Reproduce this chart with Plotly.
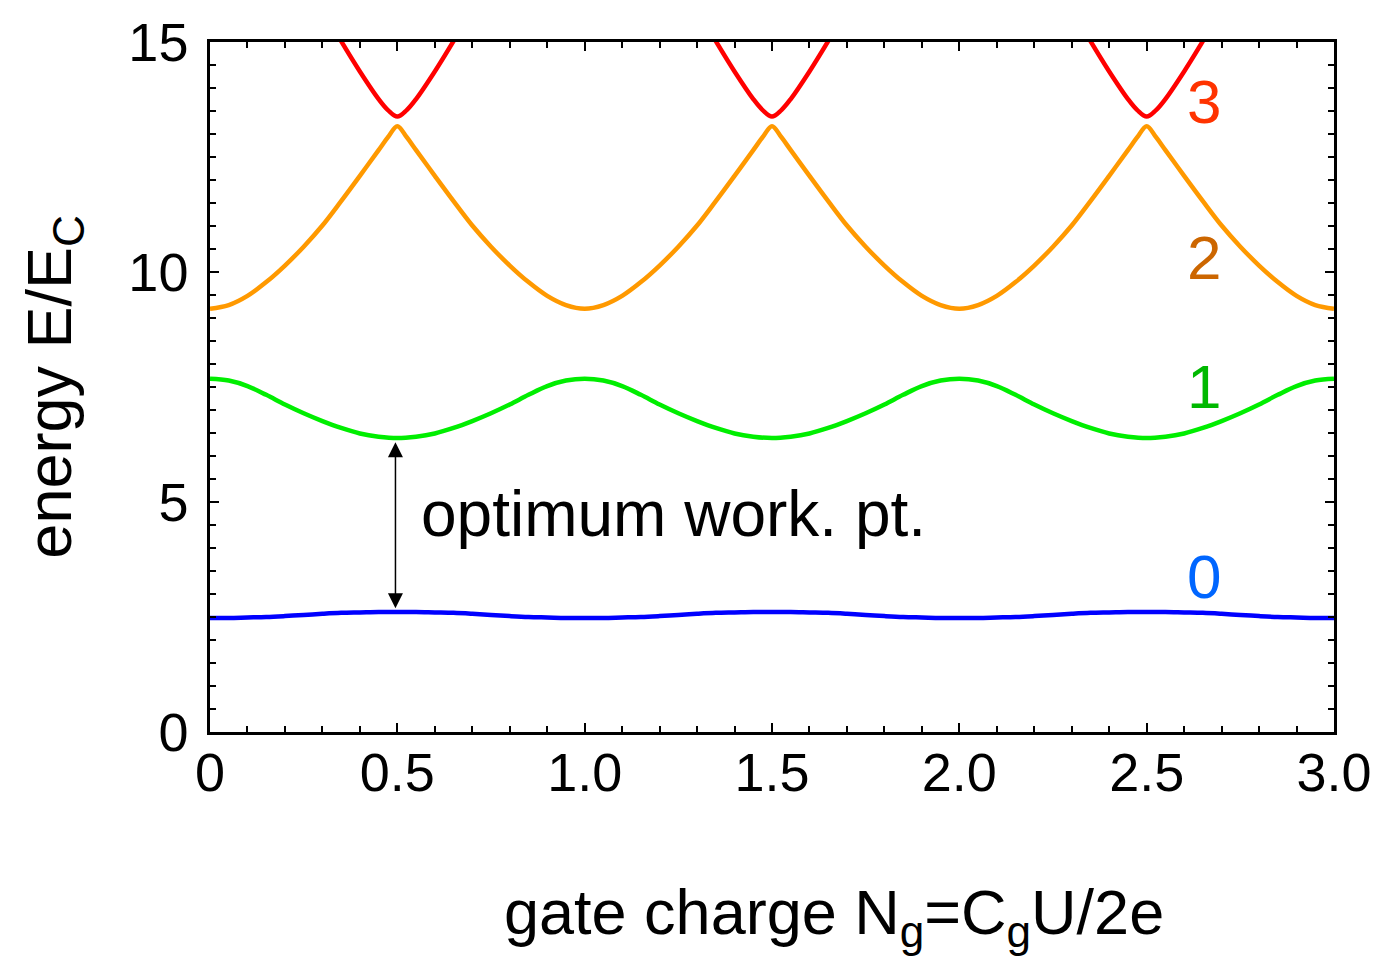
import plotly.graph_objects as go

# ---- data ----
ng = [0.00, 0.05, 0.10, 0.15, 0.20, 0.25, 0.30, 0.35, 0.40, 0.45,
      0.50, 0.55, 0.60, 0.65, 0.70, 0.75, 0.80, 0.85, 0.90, 0.95,
      1.00, 1.05, 1.10, 1.15, 1.20, 1.25, 1.30, 1.35, 1.40, 1.45,
      1.50, 1.55, 1.60, 1.65, 1.70, 1.75, 1.80, 1.85, 1.90, 1.95,
      2.00, 2.05, 2.10, 2.15, 2.20, 2.25, 2.30, 2.35, 2.40, 2.45,
      2.50, 2.55, 2.60, 2.65, 2.70, 2.75, 2.80, 2.85, 2.90, 2.95,
      3.00]

level0 = [2.48, 2.48, 2.49, 2.50, 2.52, 2.545, 2.57, 2.59, 2.60, 2.61,
          2.61, 2.61, 2.60, 2.59, 2.57, 2.545, 2.52, 2.50, 2.49, 2.48,
          2.48, 2.48, 2.49, 2.50, 2.52, 2.545, 2.57, 2.59, 2.60, 2.61,
          2.61, 2.61, 2.60, 2.59, 2.57, 2.545, 2.52, 2.50, 2.49, 2.48,
          2.48, 2.48, 2.49, 2.50, 2.52, 2.545, 2.57, 2.59, 2.60, 2.61,
          2.61, 2.61, 2.60, 2.59, 2.57, 2.545, 2.52, 2.50, 2.49, 2.48,
          2.48]

level1 = [7.68, 7.64, 7.52, 7.33, 7.12, 6.93, 6.76, 6.61, 6.49, 6.42,
          6.39, 6.42, 6.49, 6.61, 6.76, 6.93, 7.12, 7.33, 7.52, 7.64,
          7.68, 7.64, 7.52, 7.33, 7.12, 6.93, 6.76, 6.61, 6.49, 6.42,
          6.39, 6.42, 6.49, 6.61, 6.76, 6.93, 7.12, 7.33, 7.52, 7.64,
          7.68, 7.64, 7.52, 7.33, 7.12, 6.93, 6.76, 6.61, 6.49, 6.42,
          6.39, 6.42, 6.49, 6.61, 6.76, 6.93, 7.12, 7.33, 7.52, 7.64,
          7.68]

ng2 = [0.00, 0.05, 0.10, 0.15, 0.20, 0.25, 0.30, 0.35, 0.40, 0.45, 0.475,
       0.50, 0.525, 0.55, 0.60, 0.65, 0.70, 0.75, 0.80, 0.85, 0.90, 0.95,
       1.00, 1.05, 1.10, 1.15, 1.20, 1.25, 1.30, 1.35, 1.40, 1.45, 1.475,
       1.50, 1.525, 1.55, 1.60, 1.65, 1.70, 1.75, 1.80, 1.85, 1.90, 1.95,
       2.00, 2.05, 2.10, 2.15, 2.20, 2.25, 2.30, 2.35, 2.40, 2.45, 2.475,
       2.50, 2.525, 2.55, 2.60, 2.65, 2.70, 2.75, 2.80, 2.85, 2.90, 2.95,
       3.00]

level2 = [9.20, 9.28, 9.48, 9.78, 10.14, 10.55, 11.01, 11.54, 12.09, 12.65, 12.93,
          13.17, 12.93, 12.65, 12.09, 11.54, 11.01, 10.55, 10.14, 9.78, 9.48, 9.28,
          9.20, 9.28, 9.48, 9.78, 10.14, 10.55, 11.01, 11.54, 12.09, 12.65, 12.93,
          13.17, 12.93, 12.65, 12.09, 11.54, 11.01, 10.55, 10.14, 9.78, 9.48, 9.28,
          9.20, 9.28, 9.48, 9.78, 10.14, 10.55, 11.01, 11.54, 12.09, 12.65, 12.93,
          13.17, 12.93, 12.65, 12.09, 11.54, 11.01, 10.55, 10.14, 9.78, 9.48, 9.28,
          9.20]

ng3 = [0.33, 0.35, 0.40, 0.45, 0.475, 0.50, 0.525, 0.55, 0.60, 0.65, 0.67, None,
       1.33, 1.35, 1.40, 1.45, 1.475, 1.50, 1.525, 1.55, 1.60, 1.65, 1.67, None,
       2.33, 2.35, 2.40, 2.45, 2.475, 2.50, 2.525, 2.55, 2.60, 2.65, 2.67]

level3 = [15.30, 15.02, 14.36, 13.76, 13.52, 13.38, 13.52, 13.76, 14.36, 15.02, 15.30, None,
          15.30, 15.02, 14.36, 13.76, 13.52, 13.38, 13.52, 13.76, 14.36, 15.02, 15.30, None,
          15.30, 15.02, 14.36, 13.76, 13.52, 13.38, 13.52, 13.76, 14.36, 15.02, 15.30]

x_tickvals = [0, 0.5, 1.0, 1.5, 2.0, 2.5, 3.0]
x_ticktext = ["0", "0.5", "1.0", "1.5", "2.0", "2.5", "3.0"]
y_tickvals = [0, 5, 10, 15]
y_ticktext = ["0", "5", "10", "15"]

level_names = ["3", "2", "1", "0"]
level_label_x = [2.652, 2.652, 2.652, 2.652]
level_label_y = [13.71, 10.31, 7.51, 3.38]
level_label_colors = ["#ff3300", "#cc6600", "#00b800", "#0066ff"]

FONT = "Liberation Sans, Arial, Helvetica, sans-serif"

fig = go.Figure()
fig.add_trace(go.Scatter(x=ng, y=level0, mode="lines",
                         line=dict(color="#0000ff", width=4.5, shape="spline"),
                         showlegend=False, hoverinfo="skip"))
fig.add_trace(go.Scatter(x=ng, y=level1, mode="lines",
                         line=dict(color="#00ee00", width=4.5, shape="spline"),
                         showlegend=False, hoverinfo="skip"))
fig.add_trace(go.Scatter(x=ng2, y=level2, mode="lines",
                         line=dict(color="#ff9900", width=4.5, shape="spline"),
                         showlegend=False, hoverinfo="skip"))
fig.add_trace(go.Scatter(x=ng3, y=level3, mode="lines", connectgaps=False,
                         line=dict(color="#ff0000", width=4.5, shape="spline"),
                         showlegend=False, hoverinfo="skip"))

annotations = []
for name, lx, ly, col in zip(level_names, level_label_x, level_label_y, level_label_colors):
    annotations.append(dict(x=lx, y=ly, xref="x", yref="y", text=name, showarrow=False,
                            font=dict(family=FONT, size=62, color=col),
                            xanchor="center", yanchor="middle"))

# double-headed arrow between level 1 and level 0 at the optimum point
annotations.append(dict(x=0.495, y=2.69, ax=0.495, ay=6.33, xref="x", yref="y",
                        axref="x", ayref="y", text="", showarrow=True,
                        arrowhead=2, startarrowhead=2, arrowside="end+start",
                        arrowsize=2, startarrowsize=2, arrowwidth=1.5, arrowcolor="black"))
annotations.append(dict(x=0.559, y=4.73, xref="x", yref="y", text="optimum work. pt.",
                        showarrow=False, xanchor="left", yanchor="middle",
                        font=dict(family=FONT, size=64, color="black")))
# axis titles
annotations.append(dict(x=0.555, y=-0.267, xref="paper", yref="paper",
                        text="gate charge N<sub>g</sub>=C<sub>g</sub>U/2e",
                        showarrow=False, xanchor="center", yanchor="middle",
                        font=dict(family=FONT, size=63, color="black")))
annotations.append(dict(x=-0.140, y=0.5, xref="paper", yref="paper",
                        text="energy E/E<sub>C</sub>", textangle=-90,
                        showarrow=False, xanchor="center", yanchor="middle",
                        font=dict(family=FONT, size=63, color="black")))

axis_common = dict(showline=True, linecolor="black", linewidth=2.5, mirror="allticks",
                   ticks="inside", ticklen=9, tickwidth=2, tickcolor="black",
                   showgrid=False, zeroline=False,
                   tickfont=dict(family=FONT, size=54, color="black"))

fig.update_layout(
    width=1384, height=965,
    margin=dict(l=210, r=46, t=35, b=233),
    paper_bgcolor="white", plot_bgcolor="white",
    xaxis=dict(range=[0, 3], tickmode="array", tickvals=x_tickvals, ticktext=x_ticktext,
               ticklabelstandoff=-9,
               minor=dict(dtick=0.1, tick0=0, ticks="inside", ticklen=6, tickwidth=2,
                          tickcolor="black", showgrid=False),
               **axis_common),
    yaxis=dict(range=[0, 15], tickmode="array", tickvals=y_tickvals, ticktext=y_ticktext,
               ticklabelstandoff=8,
               minor=dict(dtick=0.5, tick0=0, ticks="inside", ticklen=6, tickwidth=2,
                          tickcolor="black", showgrid=False),
               **axis_common),
    annotations=annotations,
    showlegend=False,
)

fig.write_html("out.html", config={"displayModeBar": False},
               post_script="document.body.style.margin='0';")
